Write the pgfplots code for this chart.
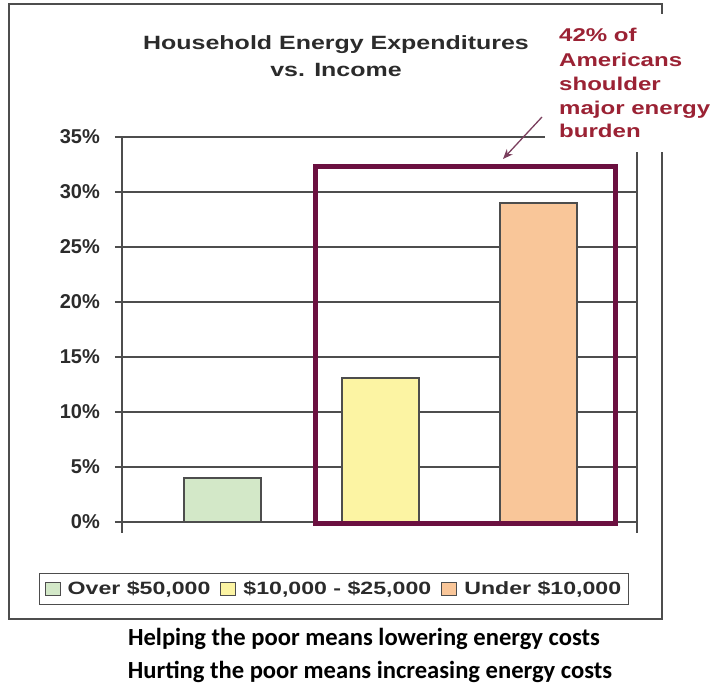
\documentclass[border=0pt]{standalone}
\usepackage{fontspec}
\setmainfont{Liberation Sans}
\newfontfamily\chartfont[FakeStretch=1.3]{Liberation Sans}
\newfontfamily\capfont{Carlito}
\usepackage{pgfplots}
\pgfplotsset{compat=1.18}
\usetikzlibrary{arrows.meta}
\definecolor{gridc}{HTML}{4D4D4D}
\definecolor{textc}{HTML}{2B2B2B}
\definecolor{barGreen}{HTML}{D3E8C8}
\definecolor{barYellow}{HTML}{FCF4A3}
\definecolor{barOrange}{HTML}{F9C699}
\definecolor{magc}{HTML}{6B1040}
\definecolor{annc}{HTML}{9B2234}
\definecolor{arrc}{HTML}{7B3F5E}
\begin{document}
\begin{tikzpicture}[x=1pt,y=1pt]
\path[use as bounding box] (0,0) rectangle (714,690);
\draw[gridc, line width=1.5pt] (9,71) rectangle (662,686);
\begin{axis}[
  at={(122pt,168pt)}, anchor=south west,
  scale only axis, width=515pt, height=385pt,
  xmin=-0.636, xmax=2.623, ymin=0, ymax=35,
  ytick={0,5,...,35},
  yticklabels={0\%,5\%,10\%,15\%,20\%,25\%,30\%,35\%},
  xtick=\empty,
  ymajorgrids, grid style={gridc, line width=1.3pt},
  axis line style={draw=none},
  tick align=outside, ytick pos=left, major tick length=7pt,
  ytick style={gridc, line width=1.3pt},
  yticklabel style={font=\bfseries\fontsize{20}{20}\selectfont, text=textc, inner sep=0pt, xshift=-15pt},
  ybar, bar width=77pt, bar shift=0pt,
  legend columns=3,
  legend style={at={(-0.1612,-0.1325)}, anchor=north west, draw=gridc, line width=1.3pt,
    font=\chartfont\bfseries\fontsize{17.8}{17.8}\selectfont, text=textc,
    inner xsep=5pt, inner ysep=6pt,
    /tikz/every odd column/.append style={column sep=5pt},
    /tikz/every even column/.append style={column sep=8pt}},
  legend image code/.code={\draw[#1, line width=1pt] (0pt,-6.5pt) rectangle (15pt,6.5pt);},
  clip=false,
]
\addplot[fill=barGreen, draw=gridc, line width=1.3pt] coordinates {(0,4.0)};
\addlegendentry{Over \$50,000}
\addplot[fill=barYellow, draw=gridc, line width=1.3pt] coordinates {(1,13.1)};
\addlegendentry{\$10,000 - \$25,000}
\addplot[fill=barOrange, draw=gridc, line width=1.3pt] coordinates {(2,29.0)};
\addlegendentry{Under \$10,000}
\draw[gridc, line width=1.3pt] (rel axis cs:0,1) -- ++(0pt,-396pt);
\draw[gridc, line width=1.3pt] (rel axis cs:1,1) -- ++(0pt,-396pt);
\end{axis}
\fill[white] (545,538) rectangle (714,676);
\draw[magc, line width=5pt] (315,166) rectangle (615,523);
\draw[arrc, line width=1.3pt, -{Stealth[length=10pt,width=8pt]}] (542,573) -- (503,531);
\begin{scope}[every node/.style={font=\chartfont\bfseries\fontsize{19.2}{19.2}\selectfont, text=textc, inner sep=0pt, anchor=base}]
\node at (336,640) {Household Energy Expenditures};
\node at (336,613) {vs. Income};
\end{scope}
\begin{scope}[every node/.style={font=\chartfont\bfseries\fontsize{18.5}{18.5}\selectfont, text=annc, inner sep=0pt, anchor=base west}]
\node at (559,648) {42\% of};
\node at (559,623) {Americans};
\node at (559,599) {shoulder};
\node at (559,575) {major energy};
\node at (559,552) {burden};
\end{scope}
\begin{scope}[every node/.style={font=\capfont\bfseries\fontsize{24.6}{24.6}\selectfont, text=black, inner sep=0pt, anchor=base}]
\node at (364,44) {Helping the poor means lowering energy costs};
\node at (370,12) {Hurting the poor means increasing energy costs};
\end{scope}
\end{tikzpicture}
\end{document}
